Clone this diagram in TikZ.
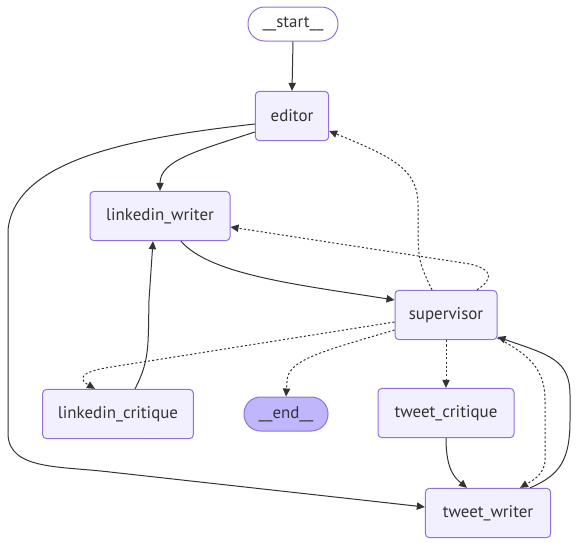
\documentclass[tikz,border=0pt]{standalone}
\usepackage{fontspec}
\setmainfont{PT Sans}
\usetikzlibrary{arrows.meta,calc}
\definecolor{nodefill}{HTML}{F2F0FF}
\definecolor{nodeborder}{HTML}{9370DB}
\definecolor{endfill}{HTML}{BFB6FC}
\definecolor{edgecol}{HTML}{333333}
\tikzset{
  gnode/.style={draw=nodeborder, fill=nodefill, line width=0.75pt, rounded corners=3pt,
    inner sep=0pt, text=edgecol, font=\fontsize{12.7}{14}\selectfont, minimum height=37pt},
  pill/.style={gnode, rounded corners=12.5pt, minimum height=25.5pt},
  edge/.style={draw=edgecol, line width=0.75pt, -{Triangle[length=6pt,width=5.5pt]}},
  dotedge/.style={edge, dash pattern=on 1.6pt off 1.6pt},
}
\begin{document}
\begin{tikzpicture}[x=0.75pt,y=-0.75pt]
\useasboundingbox (0,0) rectangle (577,546);
\node[pill, fill=white, minimum width=67.5pt] (start) at (293,24) {\_\_start\_\_};
\node[gnode, minimum width=55pt] (editor) at (292,116) {editor};
\node[gnode, minimum width=105pt] (lw) at (160,216) {linkedin\_writer};
\node[gnode, minimum width=76.5pt] (sup) at (446,315) {supervisor};
\node[gnode, minimum width=113pt] (lc) at (118,414) {linkedin\_critique};
\node[pill, fill=endfill, minimum width=63pt] (end) at (286,414) {\_\_end\_\_};
\node[gnode, minimum width=102pt] (tc) at (446,413) {tweet\_critique};
\node[gnode, minimum width=94pt] (tw) at (488,513) {tweet\_writer};

\draw[edge] (start.south) -- (editor.north);
\draw[edge] ($(editor.west)+(0,16)$) .. controls (200,150) and (160,160) .. (lw.north);
\draw[edge] ($(editor.west)+(0,8)$) .. controls (130,138) and (15,160) .. (8,230) -- (8,435)
  .. controls (10,470) and (60,466) .. (110,472) -- ($(tw.west)+(0,-6)$);
\draw[edge] ($(lw.south)+(21,0)$) .. controls (210,275) and (300,285) .. ($(sup.west)+(0,-15)$);
\draw[edge] ($(lc.north)+(17,0)$) .. controls (150,360) and (148,345) .. (149,300) -- ($(lw.south)+(-7,0)$);
\draw[dotedge] ($(sup.north)+(-14,0)$) .. controls (420,265) and (418,260) .. (418,230) -- (418,205)
  .. controls (418,170) and (395,158) .. ($(editor.east)+(0,15)$);
\draw[dotedge] ($(sup.north)+(31,0)$) .. controls (492,280) and (495,270) .. (470,264) -- ($(lw.east)+(0,11)$);
\draw[dotedge] ($(sup.west)+(0,7)$) -- (105,368) .. controls (78,373) and (80,380) .. ($(lc.north)+(-23,0)$);
\draw[dotedge] ($(sup.west)+(0,15)$) .. controls (320,352) and (287,360) .. (287,382) -- (end.north);
\draw[dotedge] (sup.south) -- (tc.north);
\draw[dotedge] ($(sup.south east)+(0,-2)$) .. controls (530,355) and (545,370) .. (545,400) -- (545,460)
  .. controls (545,475) and (530,482) .. ($(tw.north)+(32,0)$);
\draw[edge] ($(tw.north)+(42,0)$) .. controls (560,475) and (570,460) .. (570,420) -- (570,395)
  .. controls (570,360) and (550,355) .. ($(sup.east)+(0,22)$);
\draw[edge] (tc.south) .. controls (446,470) and (455,478) .. ($(tw.north)+(-21,0)$);
\end{tikzpicture}
\end{document}
